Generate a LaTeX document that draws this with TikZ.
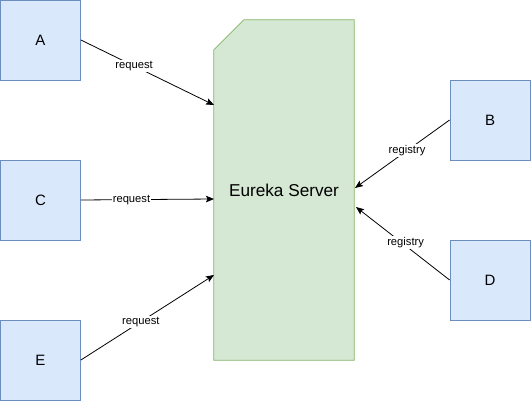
\documentclass[tikz,border=0pt]{standalone}
\usepackage{fontspec}
\setmainfont{Liberation Sans}
\usetikzlibrary{arrows.meta}
\definecolor{bfill}{HTML}{DAE8FC}
\definecolor{bdraw}{HTML}{6C8EBF}
\definecolor{gfill}{HTML}{D5E8D4}
\definecolor{gdraw}{HTML}{82B366}
\begin{document}
\begin{tikzpicture}[x=1pt,y=-1pt,
  client/.style={draw=bdraw,fill=bfill,line width=0.8pt,minimum width=80pt,minimum height=80pt,inner sep=0pt,font=\fontsize{15}{17}\selectfont},
  conn/.style={line width=0.8pt,-{Stealth[length=8pt,width=6.5pt,inset=1.5pt]}},
  lbl/.style={fill=white,inner sep=1pt,font=\fontsize{11.2}{13}\selectfont}]
\useasboundingbox (0,0) rectangle (531,401);
\node[client] (A) at (40.5,40) {A};
\node[client] (C) at (40.5,200) {C};
\node[client] (E) at (40.5,360) {E};
\node[client] (B) at (490,120) {B};
\node[client] (D) at (490,280) {D};
\node[minimum width=140pt,minimum height=340pt,inner sep=0pt] (srv) at (284,190) {};
\draw[draw=gdraw,fill=gfill,line width=0.8pt] (srv.south west) -- ([yshift=-30pt]srv.north west) -- ([xshift=30pt]srv.north west) -- (srv.north east) -- (srv.south east) -- cycle;
\node[font=\fontsize{17.2}{19}\selectfont] (title) at (srv.center) {Eureka Server};
\coordinate (sA) at (214,105);
\coordinate (sC) at (214,199);
\coordinate (sE) at (214,275);
\coordinate (sB) at (355,188);
\coordinate (sD) at (356,207);
\draw[conn] (A.east) -- node[lbl,pos=0.4] {request} (sA);
\draw[conn] (C.east) -- node[lbl,pos=0.38] {request} (sC);
\draw[conn] (E.east) -- node[lbl,pos=0.45] {request} (sE);
\draw[conn] (B.west) -- node[lbl,pos=0.45] {registry} (sB);
\draw[conn] (D.west) -- node[lbl,pos=0.47,yshift=3pt] {registry} (sD);
\end{tikzpicture}
\end{document}
